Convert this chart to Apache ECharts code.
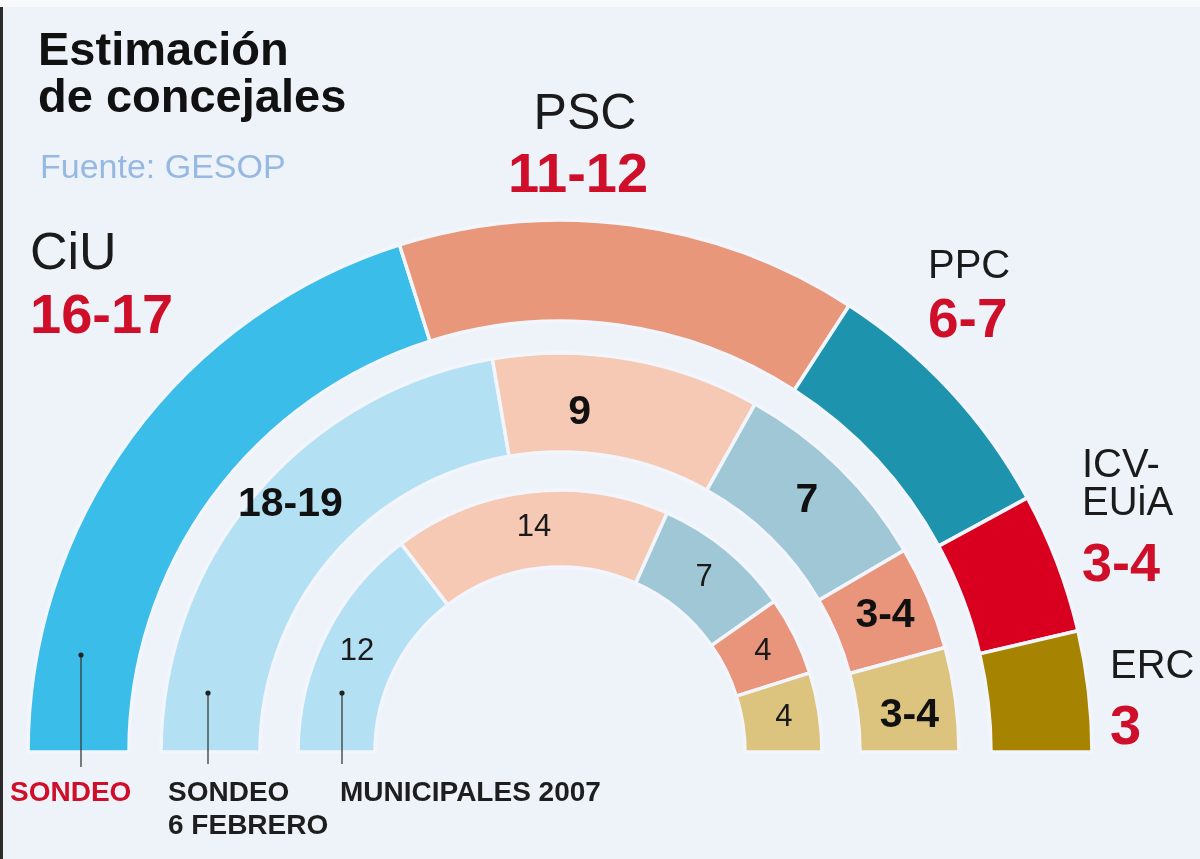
<!DOCTYPE html>
<html>
<head>
<meta charset="utf-8">
<script src="https://cdn.jsdelivr.net/npm/echarts@6/dist/echarts.min.js"></script>
<style>
html,body{margin:0;padding:0;background:#eef3fa;}
#chart{width:1200px;height:859px;}
</style>
</head>
<body>
<div id="chart"></div>
<script>
// ---- DATA ----
const categories = ['CiU', 'PSC', 'PPC', 'ICV-EUiA', 'ERC'];
const categoryTitles = ['CiU', 'PSC', 'PPC', 'ICV-\nEUiA', 'ERC'];
// Sondeo (outer ring): ranges, drawn at their midpoints
const sondeoLabels = ['16-17', '11-12', '6-7', '3-4', '3'];
const sondeo = [16.5, 11.5, 6.5, 3.5, 3];
// Sondeo 6 febrero (middle ring)
const febreroLabels = ['18-19', '9', '7', '3-4', '3-4'];
const febrero = [18.5, 9, 7, 3.5, 3.5];
// Municipales 2007 (inner ring)
const municipalesLabels = ['12', '14', '7', '4', '4'];
const municipales = [12, 14, 7, 4, 4];
const ringNames = ['SONDEO', 'SONDEO\n6 FEBRERO', 'MUNICIPALES 2007'];

// ---- STYLE ----
const FONT = "'Liberation Sans', Arial, sans-serif";
const BG = '#eef3fa';
const outerColors = ['#3bbde9', '#e8977a', '#1d93ad', '#d8001e', '#a68300'];
const innerColors = ['#b4e0f3', '#f6c9b5', '#9fc7d5', '#e9957b', '#dcc37e'];
const RED = '#cf0f2a';
const CX = 560, CY = 752;

function ringData(values, labels, colors) {
  return values.map((v, i) => ({
    name: categories[i], value: v, label: { formatter: labels[i] },
    itemStyle: { color: colors[i] }
  }));
}

const baseSeries = {
  type: 'pie', center: [CX, CY], startAngle: 180, endAngle: 0, clockwise: true,
  silent: true, avoidLabelOverlap: false, labelLine: { show: false },
  itemStyle: { borderColor: '#f2f6fc', borderWidth: 3.5 },
  emphasis: { disabled: true }
};

// outer annotation layout (positions only)
const outerTextPos = [
  { x: 30, yName: 255, yVal: 318, align: 'left', nameSize: 52, valSize: 56 },
  { x: 585, yName: 115, yVal: 177, align: 'center', nameSize: 50, valSize: 56 },
  { x: 928, yName: 267, yVal: 322, align: 'left', nameSize: 40, valSize: 55 },
  { x: 1082, yName: 485, yVal: 566, align: 'left', nameSize: 40, valSize: 54 },
  { x: 1110, yName: 667, yVal: 729, align: 'left', nameSize: 40, valSize: 56 }
];
const valXShift = [0, -7, 0, 0, 0];

const graphics = [
  { type: 'rect', z: 100, shape: { x: 0, y: 0, width: 1200, height: 7 }, style: { fill: '#f8f9fb' }, silent: true },
  { type: 'rect', z: 100, shape: { x: 0, y: 7, width: 3, height: 852 }, style: { fill: '#2b2b2b' }, silent: true },
  { type: 'text', z: 100, style: { text: 'Estimación', x: 38, y: 52, font: 'bold 47px ' + FONT, fill: '#111', textVerticalAlign: 'middle' } },
  { type: 'text', z: 100, style: { text: 'de concejales', x: 38, y: 99, font: 'bold 47px ' + FONT, fill: '#111', textVerticalAlign: 'middle' } },
  { type: 'text', z: 100, style: { text: 'Fuente: GESOP', x: 40, y: 169, font: '34px ' + FONT, fill: '#96b9e3', textVerticalAlign: 'middle' } }
];

outerTextPos.forEach((p, i) => {
  graphics.push({ type: 'text', z: 100, style: {
    text: categoryTitles[i], x: p.x, y: p.yName, font: p.nameSize + 'px ' + FONT,
    fill: '#1b1b1b', textAlign: p.align, textVerticalAlign: 'middle', lineHeight: 38 } });
  graphics.push({ type: 'text', z: 100, style: {
    text: sondeoLabels[i], x: p.x + valXShift[i], y: p.yVal, font: 'bold ' + p.valSize + 'px ' + FONT,
    fill: RED, textAlign: p.align, textVerticalAlign: 'middle' } });
});

// leader lines and ring names
const leaders = [
  { x: 81, y0: 655, y1: 767, tx: 10, ty: 793, color: RED },
  { x: 208, y0: 693, y1: 764, tx: 168, ty: 809.5, color: '#1e1e1e' },
  { x: 342, y0: 693, y1: 764, tx: 340, ty: 793, color: '#1e1e1e' }
];
leaders.forEach((l, i) => {
  graphics.push({ type: 'line', z: 100, shape: { x1: l.x, y1: l.y0, x2: l.x, y2: l.y1 }, style: { stroke: '#3a3a3a', lineWidth: 1.3 }, silent: true });
  graphics.push({ type: 'circle', z: 100, shape: { cx: l.x, cy: l.y0, r: 2.6 }, style: { fill: '#222' }, silent: true });
  graphics.push({ type: 'text', z: 100, style: {
    text: ringNames[i], x: l.tx, y: l.ty, font: 'bold 28px ' + FONT, fill: l.color,
    textVerticalAlign: 'middle', lineHeight: 33 } });
});

const chart = echarts.init(document.getElementById('chart'), null, { renderer: 'canvas' });
chart.setOption({
  backgroundColor: BG,
  animation: false,
  series: [
    Object.assign({}, baseSeries, {
      name: 'SONDEO', radius: [431, 532],
      data: ringData(sondeo, sondeoLabels, outerColors),
      label: { show: false }
    }),
    Object.assign({}, baseSeries, {
      name: 'SONDEO 6 FEBRERO', radius: [300, 399],
      data: ringData(febrero, febreroLabels, innerColors),
      label: { show: true, position: 'inside', color: '#111', fontFamily: FONT, fontWeight: 'bold', fontSize: 41 },
      labelLayout: function (params) {
        if (params.dataIndex === 0) return { dy: -20 };
        if (params.dataIndex === 1) return { dx: -40, dy: 8 };
        if (params.dataIndex === 4) return { dy: 10 };
        return {};
      }
    }),
    Object.assign({}, baseSeries, {
      name: 'MUNICIPALES 2007', radius: [185, 262],
      data: ringData(municipales, municipalesLabels, innerColors),
      label: { show: true, position: 'inside', color: '#1a1a1a', fontFamily: FONT, fontSize: 31 }
    })
  ],
  graphic: graphics
});
</script>
</body>
</html>
